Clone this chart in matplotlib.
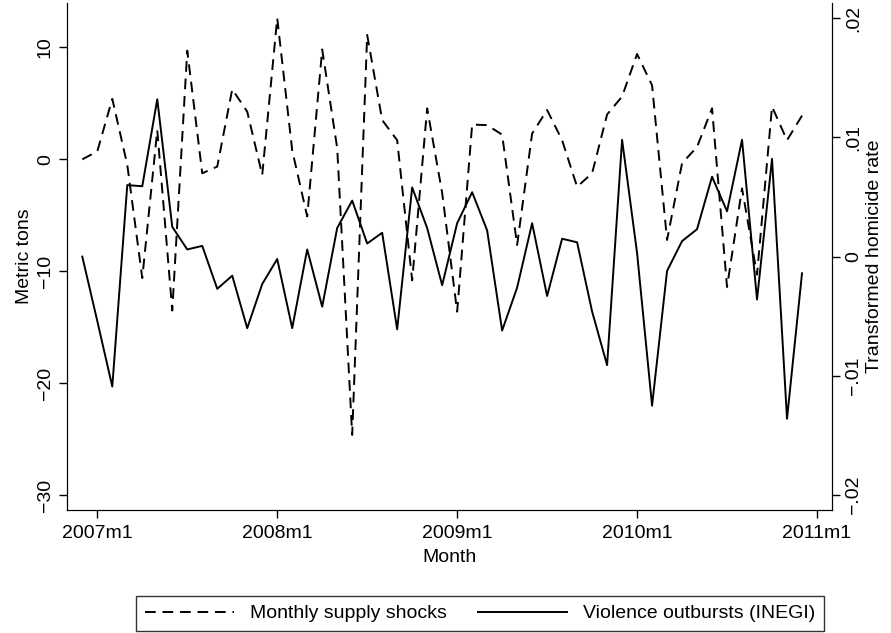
import matplotlib
matplotlib.use("Agg")
import matplotlib.pyplot as plt
import numpy as np

plt.rcParams['font.family'] = ['Liberation Sans', 'DejaVu Sans']

# months, 0 = 2007m1 ; series runs 2006m12 .. 2010m12
months = np.arange(-1, 48)

supply = [0.0, 0.7, 5.4, -0.5, -10.6, 2.6, -13.5, 9.7, -1.25, -0.65,
          6.25, 4.25, -1.4, 12.6, 0.8, -5.1, 9.8, 1.0, -24.6, 11.1,
          3.5, 1.7, -10.8, 4.55, -3.0, -13.6, 3.1, 3.05, 2.2, -7.65,
          2.3, 4.4, 1.7, -2.45, -1.25, 4.0, 5.6, 9.4, 6.6, -7.2,
          -0.35, 1.1, 4.55, -11.4, -2.6, -10.3, 4.7, 1.7, 3.9]

violence = [0.0, -0.0054, -0.0109, 0.0060, 0.0059, 0.0132, 0.0025, 0.0006, 0.0009, -0.0027,
            -0.0016, -0.0060, -0.0023, -0.0002, -0.0060, 0.0006, -0.0042, 0.0024, 0.0047, 0.0011,
            0.0020, -0.0061, 0.0058, 0.0024, -0.0024, 0.0028, 0.0054, 0.0022, -0.0062, -0.0026,
            0.0028, -0.0033, 0.0015, 0.0012, -0.0046, -0.0091, 0.0098, 0.0003, -0.0125, -0.0012,
            0.0013, 0.0023, 0.0067, 0.0038, 0.0098, -0.0036, 0.0082, -0.0136, -0.0014]

xticks = [0, 12, 24, 36, 48]
xlabels = ['2007m1', '2008m1', '2009m1', '2010m1', '2011m1']
lticks = [10, 0, -10, -20, -30]
lticklabels = ['10', '0', '\u221210', '\u221220', '\u221230']
rticks = [0.02, 0.01, 0, -0.01, -0.02]
rticklabels = ['.02', '.01', '0', '\u2212.01', '\u2212.02']

fs = 14
fig = plt.figure(figsize=(8.91, 6.33), dpi=100)
ax = fig.add_axes([67/891, 1-510/633, (832-67)/891, (510-3)/633])
ax2 = ax.twinx()

l1, = ax.plot(months, supply, color='black', lw=1.4, ls=(0, (5.5, 3.5)))
l2, = ax2.plot(months, violence, color='black', lw=1.4)

ax.set_xlim(-2.02, 49.0)
ax.set_ylim(-31.3, 13.95)
ax2.set_ylim(-0.02125, 0.02127)

for a in (ax, ax2):
    a.spines['top'].set_visible(False)
    a.tick_params(direction='out', length=6, width=1, labelsize=fs, colors='black')
ax.set_xticks(xticks)
ax.set_xticklabels(xlabels)
ax.tick_params(axis='x', pad=5)
ax.set_yticks(lticks)
ax.set_yticklabels(lticklabels, rotation=90, va='center')
ax2.set_yticks(rticks)
ax2.set_yticklabels(rticklabels, rotation=90, va='center')

ax.set_xlabel('Month', fontsize=fs, labelpad=5)
ax.set_ylabel('Metric tons', fontsize=fs, labelpad=3)
ax2.set_ylabel('Transformed homicide rate', fontsize=fs, labelpad=3)

fig.legend([l1, l2], ['Monthly supply shocks', 'Violence outbursts (INEGI)'],
           loc='lower center', bbox_to_anchor=(480/891, 0.0), ncol=2,
           fontsize=fs, frameon=True, fancybox=False, edgecolor='black',
           handlelength=4.6, columnspacing=1.6, borderpad=0.45, borderaxespad=0.1)

fig.savefig('out.png', dpi=100)
